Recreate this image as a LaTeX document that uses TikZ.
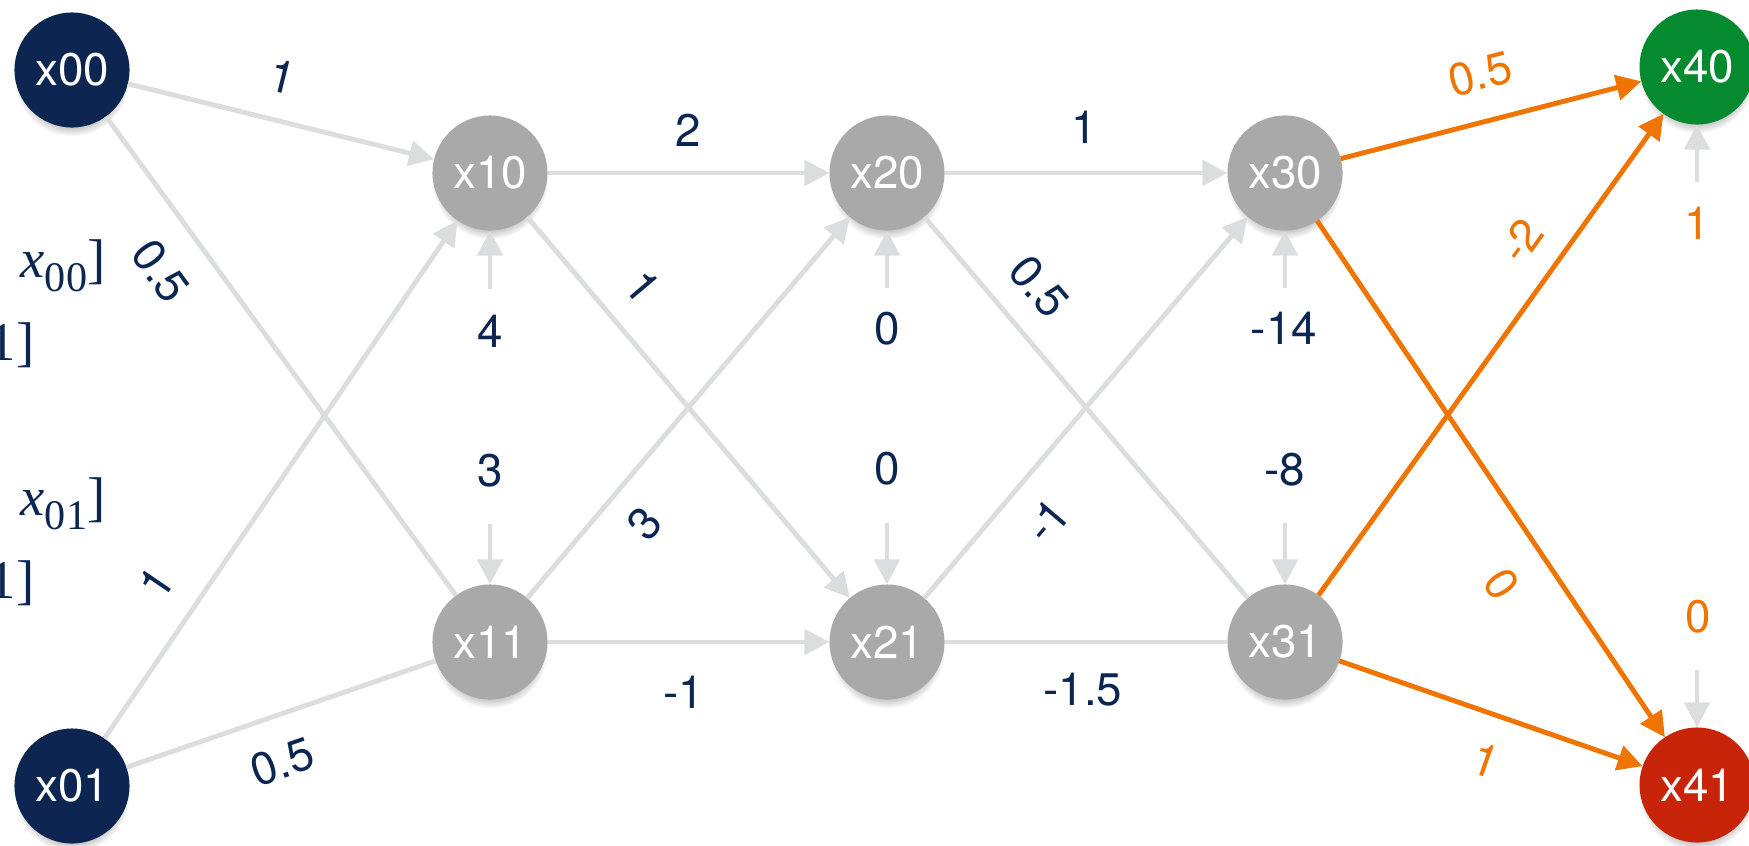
\documentclass[tikz,border=0pt]{standalone}
\usepackage{fontspec}
\setsansfont{TeX Gyre Heros}
\newfontfamily\tmsfont{Liberation Serif}
\usetikzlibrary{arrows.meta,shadows}
\definecolor{navy}{HTML}{0C2551}
\definecolor{txtnavy}{HTML}{0B2653}
\definecolor{ngray}{HTML}{A8A9A8}
\definecolor{egray}{HTML}{DCDDDF}
\definecolor{orng}{HTML}{F07400}
\definecolor{outgreen}{HTML}{058A30}
\definecolor{outred}{HTML}{C8240A}
\newcommand{\subdig}[1]{\raisebox{-4pt}{\fontsize{12}{14}\selectfont #1}}
\begin{document}
\begin{tikzpicture}[x=0.01cm,y=-0.01cm,
  neuron/.style={circle, minimum size=1.15cm, inner sep=0pt, outer sep=0pt,
    font=\sffamily\fontsize{13}{15}\selectfont, text=white,
    circular drop shadow={shadow xshift=0pt, shadow yshift=-2.5pt, opacity=0.4, shadow scale=1.0}},
  innode/.style={neuron, fill=navy},
  hidnode/.style={neuron, fill=ngray},
  gedge/.style={draw=egray, line width=1.4pt},
  garrow/.style={gedge, -{Triangle[length=0.25cm,width=0.25cm]}},
  oarrow/.style={draw=orng, line width=1.4pt, -{Triangle[length=0.25cm,width=0.25cm]}},
  wlabel/.style={font=\sffamily\fontsize{13}{15}\selectfont, text=txtnavy, inner sep=0pt},
  olabel/.style={wlabel, text=orng},
  mlabel/.style={font=\tmsfont\fontsize{15.5}{18}\selectfont, text=txtnavy, inner sep=0pt, anchor=base east}
]
\useasboundingbox (0,0) rectangle (1749,845);

% nodes
\node[innode] (x00) at (72,70) {x00};
\node[innode] (x01) at (72,786) {x01};
\node[hidnode] (x10) at (490,173) {x10};
\node[hidnode] (x11) at (490,642) {x11};
\node[hidnode] (x20) at (887,173) {x20};
\node[hidnode] (x21) at (887,642) {x21};
\node[hidnode] (x30) at (1285,173) {x30};
\node[hidnode] (x31) at (1285,642) {x31};
\node[neuron, fill=outgreen] (x40) at (1697,67) {x40};
\node[neuron, fill=outred] (x41) at (1697,785) {x41};

% partial math text on the left
\node[mlabel] (m1) at (106,277) {\textit{x}\subdig{00}]};
\node[mlabel] (m2) at (35,360) {1]};
\node[mlabel] (m3) at (106,515) {\textit{x}\subdig{01}]};
\node[mlabel] (m4) at (35,598) {1]};

% bias coordinates
\coordinate (b10) at (490,289);
\coordinate (b11) at (490,524);
\coordinate (b20) at (887,288);
\coordinate (b21) at (887,523);
\coordinate (b30) at (1285,288);
\coordinate (b31) at (1285,523);
\coordinate (b40) at (1697,182);
\coordinate (b41) at (1697,670);

% layer 0 -> 1
\draw[garrow] (x00) -- (x10);
\draw[gedge] (x00) -- (x11);
\draw[garrow] (x01) -- (x10);
\draw[gedge] (x01) -- (x11);
\draw[garrow] (b10) -- (x10);
\draw[garrow] (b11) -- (x11);

% layer 1 -> 2
\draw[garrow] (x10) -- (x20);
\draw[garrow] (x10) -- (x21);
\draw[garrow] (x11) -- (x20);
\draw[garrow] (x11) -- (x21);
\draw[garrow] (b20) -- (x20);
\draw[garrow] (b21) -- (x21);

% layer 2 -> 3
\draw[garrow] (x20) -- (x30);
\draw[gedge] (x20) -- (x31);
\draw[garrow] (x21) -- (x30);
\draw[gedge] (x21) -- (x31);
\draw[garrow] (b30) -- (x30);
\draw[garrow] (b31) -- (x31);

% layer 3 -> 4
\draw[oarrow] (x30) -- (x40);
\draw[oarrow] (x31) -- (x40);
\draw[oarrow] (x30) -- (x41);
\draw[oarrow] (x31) -- (x41);
\draw[garrow] (b40) -- (x40);
\draw[garrow] (b41) -- (x41);

% weight labels
\node[wlabel, rotate=-13.8] (w0010) at (283,77) {1};
\node[wlabel, rotate=-53.8] (w0011) at (161,271) {0.5};
\node[wlabel, rotate=55.8] (w0110) at (156,583) {1};
\node[wlabel, rotate=19.1] (w0111) at (282,762) {0.5};
\node[wlabel] (bl10) at (490,331) {4};
\node[wlabel] (bl11) at (490,471) {3};

\node[wlabel] (w1020) at (688,130) {2};
\node[wlabel, rotate=-49.7] (w1021) at (643,287) {1};
\node[wlabel, rotate=49.7] (w1120) at (645,524) {3};
\node[wlabel] (w1121) at (684,692) {-1};
\node[wlabel] (bl20) at (887,329) {0};
\node[wlabel] (bl21) at (887,469) {0};

\node[wlabel] (w2030) at (1084,127) {1};
\node[wlabel, rotate=-49.6] (w2031) at (1039,286) {0.5};
\node[wlabel, rotate=49.6] (w2130) at (1047,521) {-1};
\node[wlabel] (w2131) at (1083,690) {-1.5};
\node[wlabel] (bl30) at (1284,328) {-14};
\node[wlabel] (bl31) at (1285,470) {-8};

\node[olabel, rotate=14.4] (w3040) at (1480,74) {0.5};
\node[olabel, rotate=54.3] (w3140) at (1521,241) {-2};
\node[olabel, rotate=-56] (w3041) at (1502,584) {0};
\node[olabel, rotate=-19.3] (w3141) at (1486,760) {1};
\node[olabel] (bl40) at (1697,223) {1};
\node[olabel] (bl41) at (1698,617) {0};
\end{tikzpicture}
\end{document}
